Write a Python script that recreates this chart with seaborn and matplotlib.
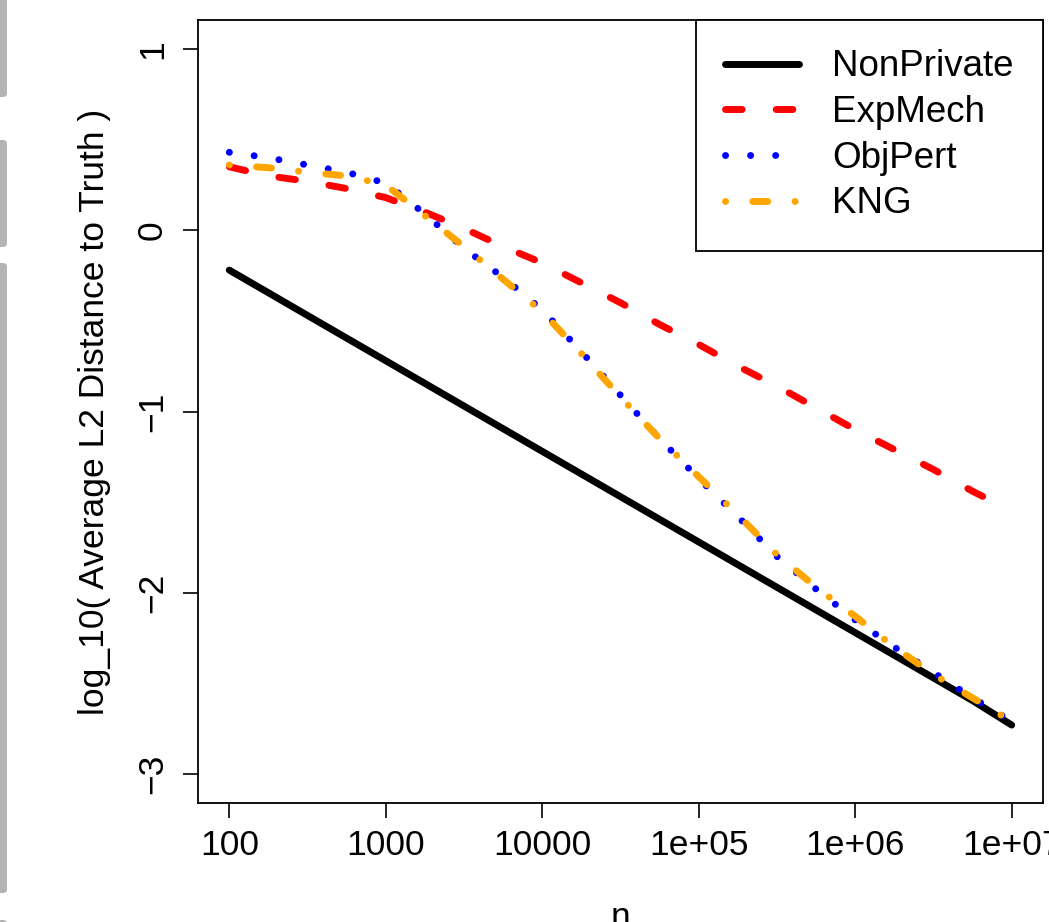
import matplotlib
matplotlib.use("Agg")
import matplotlib.pyplot as plt
from matplotlib.patches import FancyBboxPatch
import seaborn as sns
import numpy as np

# ================================
# Data
# ================================
n_values = [100, 178, 316, 562, 1000, 1778, 3162, 5623, 10000, 17783, 31623,
            56234, 100000, 177828, 316228, 562341, 1000000, 1778279, 3162278,
            5623413, 10000000]

nonprivate = [-0.22, -0.345, -0.47, -0.595, -0.72, -0.845, -0.97, -1.095, -1.22,
              -1.345, -1.47, -1.595, -1.72, -1.845, -1.97, -2.095, -2.22, -2.345,
              -2.47, -2.595, -2.73]
expmech = [0.35, 0.30, 0.27, 0.23, 0.18, 0.10, 0.01, -0.09, -0.18, -0.29, -0.40,
           -0.52, -0.63, -0.75, -0.86, -0.98, -1.10, -1.21, -1.32, -1.44, -1.55]
objpert = [0.43, 0.40, 0.36, 0.32, 0.26, 0.09, -0.10, -0.26, -0.44, -0.67, -0.91,
           -1.15, -1.37, -1.58, -1.80, -1.98, -2.15, -2.30, -2.44, -2.58, -2.71]
kng = [0.36, 0.345, 0.32, 0.30, 0.25, 0.08, -0.09, -0.27, -0.45, -0.68, -0.92,
       -1.15, -1.36, -1.57, -1.79, -1.97, -2.13, -2.30, -2.45, -2.58, -2.71]

series_names = ["NonPrivate", "ExpMech", "ObjPert", "KNG"]
series_values = [nonprivate, expmech, objpert, kng]
series_colors = ["black", "red", "blue", "orange"]
# dash patterns in units of line width (R lty 1, 2, 3, 4)
series_styles = ["-", (0, (2.4, 4.9)), (0, (0.01, 3.6)), (0, (0.01, 3.93, 2.14, 3.93))]

xtick_values = [100, 1000, 10000, 100000, 1000000, 10000000]
xtick_labels = ["100", "1000", "10000", "1e+05", "1e+06", "1e+07"]
ytick_values = [-3, -2, -1, 0, 1]
ytick_labels = ["\u22123", "\u22122", "\u22121", "0", "1"]

# ================================
# Plot
# ================================
sns.set_theme(style="white")
plt.rcParams["font.family"] = ["Liberation Sans", "DejaVu Sans"]
plt.rcParams["text.color"] = "black"
plt.rcParams["axes.labelcolor"] = "black"
plt.rcParams["xtick.color"] = "black"
plt.rcParams["ytick.color"] = "black"

fig = plt.figure(figsize=(10.49, 9.22), dpi=100)
ax = fig.add_axes([198 / 1049, 1 - 803 / 922, (1043 - 198) / 1049, (803 - 20) / 922])

lw = 5.0
for name, vals, col, ls in zip(series_names, series_values, series_colors, series_styles):
    sns.lineplot(x=n_values, y=vals, ax=ax, color=col, linewidth=lw, linestyle=ls,
                 dash_capstyle="round", solid_capstyle="round", label=name)

ax.set_xscale("log")
ax.set_xlim(10 ** 1.8, 10 ** 7.2)
ax.set_ylim(-3.16, 1.16)

ax.set_xticks(xtick_values)
ax.set_xticklabels(xtick_labels)
ax.minorticks_off()
ax.set_yticks(ytick_values)
ax.set_yticklabels(ytick_labels, rotation=90, va="center")

ax.tick_params(axis="both", direction="out", length=11, width=1.2, color="black",
               labelsize=25.5, labelcolor="black", bottom=True, left=True)
ax.tick_params(axis="x", pad=8)
ax.tick_params(axis="y", pad=10)

for spine in ax.spines.values():
    spine.set_color("black")
    spine.set_linewidth(1.3)

ax.set_xlabel("n", fontsize=25.5, labelpad=28, color="black")
ax.set_ylabel("log_10( Average L2 Distance to Truth )", fontsize=25.5, labelpad=18,
              color="black")

handles, labels = ax.get_legend_handles_labels()
leg = ax.legend(handles, labels, loc="upper right", borderaxespad=0, fontsize=26.5,
                frameon=True, fancybox=False, edgecolor="black", framealpha=1,
                handlelength=2.0, handletextpad=0.9, labelspacing=0.29, borderpad=0.8)
leg.get_frame().set_linewidth(1.3)
for txt in leg.get_texts():
    txt.set_color("black")

# grey window-edge strip on the far left of the screenshot
for y0, y1 in [(-10, 97), (140, 247), (263, 893), (920, 940)]:
    fig.patches.append(FancyBboxPatch((-4 / 1049, 1 - y1 / 922), 11 / 1049, (y1 - y0) / 922,
                                      boxstyle="round,pad=0,rounding_size=0.004",
                                      transform=fig.transFigure, facecolor="#b4b4b4",
                                      edgecolor="none", zorder=0))

plt.savefig("out.png", dpi=100)
plt.close()
